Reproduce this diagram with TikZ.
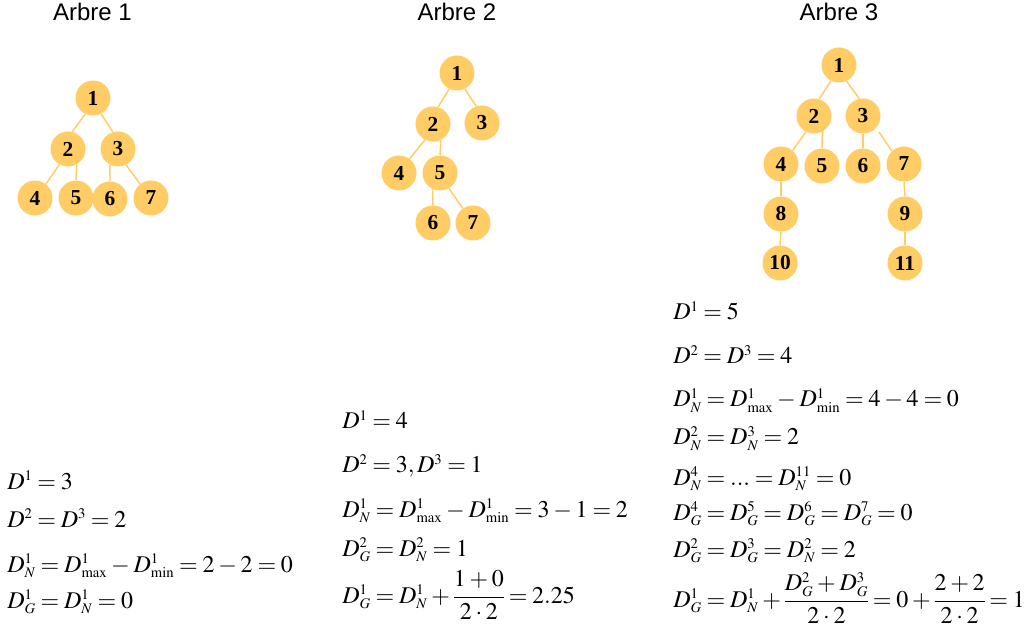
\documentclass[tikz,border=0pt]{standalone}
\usepackage{amsmath}
\usepackage{mathptmx}
\usepackage[no-math]{fontspec}
\setmainfont{Liberation Serif}
\newfontfamily\arialf{Liberation Sans}
\usetikzlibrary{calc}
\DeclareMathSizes{18}{18}{11}{8}
\definecolor{nodeorange}{HTML}{FFCC66}
\tikzset{
  treenode/.style={circle, fill=nodeorange, draw=none, inner sep=0pt, minimum size=26.25pt,
    font=\fontsize{16}{16}\selectfont\bfseries},
  edge/.style={draw=nodeorange, line width=1.1pt},
  title/.style={anchor=base, font=\arialf\fontsize{18}{18}\selectfont, inner sep=0pt},
  formula/.style={anchor=base west, font=\fontsize{18}{18}\selectfont, inner sep=0pt,
    execute at begin node={\thickmuskip=3.6mu plus 2mu\medmuskip=2.8mu plus 2mu minus 2mu\nulldelimiterspace=0pt}}
}
\begin{document}
\begin{tikzpicture}[x=0.75pt, y=-0.75pt]
\useasboundingbox (0,0) rectangle (1031,630);
% titles
\node[title] (t1) at (92.5,21) {Arbre 1};
\node[title] (t2) at (457,21) {Arbre 2};
\node[title] (t3) at (839,21) {Arbre 3};
% tree 1
\node[treenode] (a1) at (93,98) {1};
\node[treenode] (a2) at (68,149) {2};
\node[treenode] (a3) at (118,149) {3};
\node[treenode] (a4) at (35,198) {4};
\node[treenode] (a5) at (76,198) {5};
\node[treenode] (a6) at (110,199) {6};
\node[treenode] (a7) at (151,198) {7};
\draw[edge] (a1.-116) -- (a2.76);
\draw[edge] (a1.-63) -- (a3.107);
\draw[edge] (a2.-119) -- (a4.52);
\draw[edge] (a2.-61) -- (a5.north);
\draw[edge] (a3.-117) -- (a6.north);
\draw[edge] (a3.-63) -- (a7.128);
% tree 2
\node[treenode] (b1) at (457,73) {1};
\node[treenode] (b2) at (433,124) {2};
\node[treenode] (b3) at (482,123) {3};
\node[treenode] (b4) at (399,173) {4};
\node[treenode] (b5) at (440,173) {5};
\node[treenode] (b6) at (433,223) {6};
\node[treenode] (b7) at (473,223) {7};
\draw[edge] (b1.-116) -- (b2.73);
\draw[edge] (b1.-64) -- (b3.109);
\draw[edge] (b2.-117) -- (b4.53);
\draw[edge] (b2.-64) -- (b5.north);
\draw[edge] (b5.-115) -- (b6.north);
\draw[edge] (b5.-60) -- (b7.125);
% tree 3
\node[treenode] (c1) at (839,65) {1};
\node[treenode] (c2) at (814,116) {2};
\node[treenode] (c3) at (863,116) {3};
\node[treenode] (c4) at (781,164) {4};
\node[treenode] (c5) at (822,166) {5};
\node[treenode] (c6) at (863,166) {6};
\node[treenode] (c7) at (904,164) {7};
\node[treenode] (c8) at (781,214) {8};
\node[treenode] (c9) at (905,214) {9};
\node[treenode] (c10) at (780,263) {10};
\node[treenode] (c11) at (905,263) {11};
\coordinate (c37) at ($(c3)+(16,16)$);
\draw[edge] (c1.-117) -- (c2.73);
\draw[edge] (c1.-65) -- (c3.102);
\draw[edge] (c2.-117) -- (c4.49);
\draw[edge] (c2.-62) -- (c5.north);
\draw[edge] (c3.south) -- (c6.north);
\draw[edge] (c37) -- (c7.133);
\draw[edge] (c4.south) -- (c8.north);
\draw[edge] (c7.south) -- (c9.north);
\draw[edge] (c8.south) -- (c10.north);
\draw[edge] (c9.south) -- (c11.north);
% formulas tree 1
\node[formula] (f11) at (7,489) {$D^1 = 3$};
\node[formula] (f12) at (7,527) {$D^2 = D^3 = 2$};
\node[formula] (f13) at (7,572) {$D_N^1 = D_{\max}^1 - D_{\min}^1 = 2-2=0$};
\node[formula] (f14) at (7,608) {$D_G^1 = D_N^1 = 0$};
% formulas tree 2
\node[formula] (f21) at (342,429) {$D^1 = 4$};
\node[formula] (f22) at (342,473) {$D^2 = 3, D^3 = 1$};
\node[formula] (f23) at (342,517) {$D_N^1 = D_{\max}^1 - D_{\min}^1 = 3-1=2$};
\node[formula] (f24) at (342,556) {$D_G^2 = D_N^2 = 1$};
\node[formula] (f25) at (342,603) {$D_G^1 = D_N^1 + \dfrac{1+0}{2\cdot 2} = 2.25$};
% formulas tree 3
\node[formula] (f31) at (673,320) {$D^1 = 5$};
\node[formula] (f32) at (673,364) {$D^2 = D^3 = 4$};
\node[formula] (f33) at (673,407) {$D_N^1 = D_{\max}^1 - D_{\min}^1 = 4-4=0$};
\node[formula] (f34) at (673,445) {$D_N^2 = D_N^3 = 2$};
\node[formula] (f35) at (673,485) {$D_N^4 = ... = D_N^{11} = 0$};
\node[formula] (f36) at (673,520) {$D_G^4 = D_G^5 = D_G^6 = D_G^7 = 0$};
\node[formula] (f37) at (673,557) {$D_G^2 = D_G^3 = D_N^2 = 2$};
\node[formula] (f38) at (673,607) {$D_G^1 = D_N^1 + \dfrac{D_G^2 + D_G^3}{2\cdot 2} = 0 + \dfrac{2+2}{2\cdot 2} = 1$};
\end{tikzpicture}
\end{document}
